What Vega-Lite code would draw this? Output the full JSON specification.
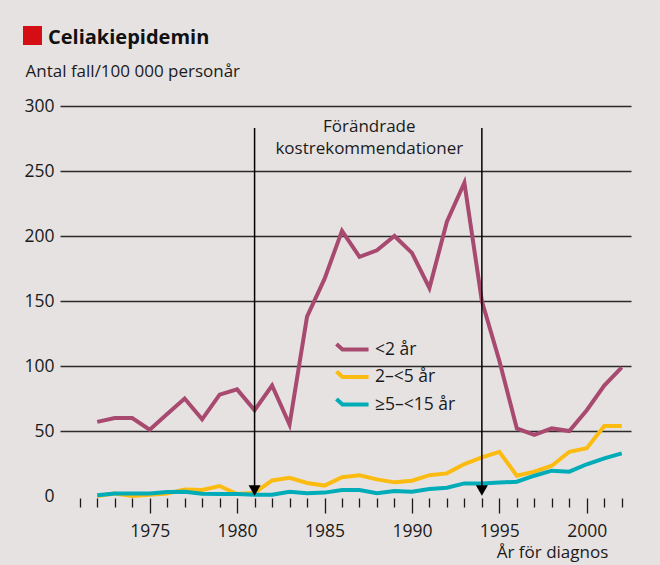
{
  "$schema": "https://vega.github.io/schema/vega-lite/v6.json",
  "width": 571,
  "height": 390,
  "autosize": {"type": "none"},
  "padding": {"left": 60, "top": 106, "right": 29, "bottom": 69},
  "background": "#e7e2e2",
  "config": {
    "view": {"stroke": null},
    "font": "Open Sans",
    "text": {"font": "Open Sans"}
  },
  "title": {
    "text": "Celiakiepidemin",
    "anchor": "start",
    "frame": "group",
    "font": "Open Sans",
    "fontSize": 20,
    "fontWeight": "bold",
    "color": "#111111",
    "dx": -12,
    "offset": -22
  },
  "datasets": {
    "series": [
      {"year": 1972, "value": 57, "grupp": "<2 år"},
      {"year": 1973, "value": 60, "grupp": "<2 år"},
      {"year": 1974, "value": 60, "grupp": "<2 år"},
      {"year": 1975, "value": 51, "grupp": "<2 år"},
      {"year": 1976, "value": 63, "grupp": "<2 år"},
      {"year": 1977, "value": 75, "grupp": "<2 år"},
      {"year": 1978, "value": 59, "grupp": "<2 år"},
      {"year": 1979, "value": 78, "grupp": "<2 år"},
      {"year": 1980, "value": 82, "grupp": "<2 år"},
      {"year": 1981, "value": 66, "grupp": "<2 år"},
      {"year": 1982, "value": 85, "grupp": "<2 år"},
      {"year": 1983, "value": 55, "grupp": "<2 år"},
      {"year": 1984, "value": 138, "grupp": "<2 år"},
      {"year": 1985, "value": 167, "grupp": "<2 år"},
      {"year": 1986, "value": 204, "grupp": "<2 år"},
      {"year": 1987, "value": 184, "grupp": "<2 år"},
      {"year": 1988, "value": 189, "grupp": "<2 år"},
      {"year": 1989, "value": 200, "grupp": "<2 år"},
      {"year": 1990, "value": 187, "grupp": "<2 år"},
      {"year": 1991, "value": 160, "grupp": "<2 år"},
      {"year": 1992, "value": 211, "grupp": "<2 år"},
      {"year": 1993, "value": 241, "grupp": "<2 år"},
      {"year": 1994, "value": 150, "grupp": "<2 år"},
      {"year": 1995, "value": 104, "grupp": "<2 år"},
      {"year": 1996, "value": 52, "grupp": "<2 år"},
      {"year": 1997, "value": 47, "grupp": "<2 år"},
      {"year": 1998, "value": 52, "grupp": "<2 år"},
      {"year": 1999, "value": 50, "grupp": "<2 år"},
      {"year": 2000, "value": 66, "grupp": "<2 år"},
      {"year": 2001, "value": 85, "grupp": "<2 år"},
      {"year": 2002, "value": 99, "grupp": "<2 år"},
      {"year": 1972, "value": 0, "grupp": "2–<5 år"},
      {"year": 1973, "value": 2, "grupp": "2–<5 år"},
      {"year": 1974, "value": 0, "grupp": "2–<5 år"},
      {"year": 1975, "value": 1, "grupp": "2–<5 år"},
      {"year": 1976, "value": 2, "grupp": "2–<5 år"},
      {"year": 1977, "value": 5, "grupp": "2–<5 år"},
      {"year": 1978, "value": 4.6, "grupp": "2–<5 år"},
      {"year": 1979, "value": 7.7, "grupp": "2–<5 år"},
      {"year": 1980, "value": 1.5, "grupp": "2–<5 år"},
      {"year": 1981, "value": 2.5, "grupp": "2–<5 år"},
      {"year": 1982, "value": 12, "grupp": "2–<5 år"},
      {"year": 1983, "value": 14, "grupp": "2–<5 år"},
      {"year": 1984, "value": 10, "grupp": "2–<5 år"},
      {"year": 1985, "value": 8, "grupp": "2–<5 år"},
      {"year": 1986, "value": 14.4, "grupp": "2–<5 år"},
      {"year": 1987, "value": 16, "grupp": "2–<5 år"},
      {"year": 1988, "value": 12.8, "grupp": "2–<5 år"},
      {"year": 1989, "value": 10.5, "grupp": "2–<5 år"},
      {"year": 1990, "value": 11.8, "grupp": "2–<5 år"},
      {"year": 1991, "value": 16, "grupp": "2–<5 år"},
      {"year": 1992, "value": 17.4, "grupp": "2–<5 år"},
      {"year": 1993, "value": 24.6, "grupp": "2–<5 år"},
      {"year": 1994, "value": 29.7, "grupp": "2–<5 år"},
      {"year": 1995, "value": 34, "grupp": "2–<5 år"},
      {"year": 1996, "value": 15.6, "grupp": "2–<5 år"},
      {"year": 1997, "value": 18.7, "grupp": "2–<5 år"},
      {"year": 1998, "value": 23.3, "grupp": "2–<5 år"},
      {"year": 1999, "value": 34, "grupp": "2–<5 år"},
      {"year": 2000, "value": 36.7, "grupp": "2–<5 år"},
      {"year": 2001, "value": 53.8, "grupp": "2–<5 år"},
      {"year": 2002, "value": 53.8, "grupp": "2–<5 år"},
      {"year": 1972, "value": 0.5, "grupp": "≥5–<15 år"},
      {"year": 1973, "value": 2, "grupp": "≥5–<15 år"},
      {"year": 1974, "value": 2, "grupp": "≥5–<15 år"},
      {"year": 1975, "value": 2, "grupp": "≥5–<15 år"},
      {"year": 1976, "value": 3, "grupp": "≥5–<15 år"},
      {"year": 1977, "value": 3.3, "grupp": "≥5–<15 år"},
      {"year": 1978, "value": 1.8, "grupp": "≥5–<15 år"},
      {"year": 1979, "value": 1.5, "grupp": "≥5–<15 år"},
      {"year": 1980, "value": 1.5, "grupp": "≥5–<15 år"},
      {"year": 1981, "value": 1, "grupp": "≥5–<15 år"},
      {"year": 1982, "value": 1, "grupp": "≥5–<15 år"},
      {"year": 1983, "value": 3.3, "grupp": "≥5–<15 år"},
      {"year": 1984, "value": 2.2, "grupp": "≥5–<15 år"},
      {"year": 1985, "value": 2.6, "grupp": "≥5–<15 år"},
      {"year": 1986, "value": 4.6, "grupp": "≥5–<15 år"},
      {"year": 1987, "value": 4.6, "grupp": "≥5–<15 år"},
      {"year": 1988, "value": 2.2, "grupp": "≥5–<15 år"},
      {"year": 1989, "value": 3.8, "grupp": "≥5–<15 år"},
      {"year": 1990, "value": 3.3, "grupp": "≥5–<15 år"},
      {"year": 1991, "value": 5.4, "grupp": "≥5–<15 år"},
      {"year": 1992, "value": 6.4, "grupp": "≥5–<15 år"},
      {"year": 1993, "value": 9.7, "grupp": "≥5–<15 år"},
      {"year": 1994, "value": 9.7, "grupp": "≥5–<15 år"},
      {"year": 1995, "value": 10.3, "grupp": "≥5–<15 år"},
      {"year": 1996, "value": 11, "grupp": "≥5–<15 år"},
      {"year": 1997, "value": 15.6, "grupp": "≥5–<15 år"},
      {"year": 1998, "value": 19.5, "grupp": "≥5–<15 år"},
      {"year": 1999, "value": 18.7, "grupp": "≥5–<15 år"},
      {"year": 2000, "value": 24.4, "grupp": "≥5–<15 år"},
      {"year": 2001, "value": 29, "grupp": "≥5–<15 år"},
      {"year": 2002, "value": 32.8, "grupp": "≥5–<15 år"}
    ],
    "arrows": [
      {"year": 1981, "value": 283, "bottom": 5},
      {"year": 1994, "value": 283, "bottom": 5}
    ],
    "tips": [
      {"year": 1981, "value": 4.2, "markering": "Celiakiepidemin"},
      {"year": 1994, "value": 4.2, "markering": "Celiakiepidemin"}
    ],
    "notes": [
      {"year": 1987.56, "value": 283.8, "text": "Förändrade"},
      {"year": 1987.56, "value": 266.9, "text": "kostrekommendationer"}
    ]
  },
  "encoding": {
    "x": {
      "field": "year",
      "type": "quantitative",
      "scale": {"domain": [1969.87, 2002.53], "nice": false, "zero": false},
      "axis": {
        "values": [1971, 1972, 1973, 1974, 1975, 1976, 1977, 1978, 1979, 1980, 1981, 1982, 1983, 1984, 1985, 1986, 1987, 1988, 1989, 1990, 1991, 1992, 1993, 1994, 1995, 1996, 1997, 1998, 1999, 2000, 2001, 2002],
        "format": "d",
        "labelExpr": "datum.value % 5 === 0 ? datum.label : ''",
        "grid": false,
        "domain": false,
        "ticks": true,
        "tickColor": "#1a1a1a",
        "tickWidth": 1.3,
        "tickSize": {"condition": {"test": "datum.value % 5 === 0", "value": 15}, "value": 9},
        "offset": 2,
        "labelPadding": 9,
        "labelFont": "Open Sans",
        "labelFontSize": 17.5,
        "labelColor": "#1a1a1a",
        "labelOverlap": false,
        "labelFlush": false,
        "title": "År för diagnos",
        "titleFont": "Open Sans",
        "titleFontSize": 17,
        "titleFontWeight": "normal",
        "titleColor": "#1a1a1a",
        "titleAlign": "center",
        "titleBaseline": "middle",
        "titleAnchor": null,
        "titleX": 492,
        "titleY": 54
      }
    },
    "y": {
      "field": "value",
      "type": "quantitative",
      "scale": {"domain": [0, 300], "nice": false},
      "axis": {
        "values": [0, 50, 100, 150, 200, 250, 300],
        "grid": true,
        "gridColor": "#2b2b2b",
        "gridWidth": 1.3,
        "gridOpacity": {"condition": {"test": "datum.value === 0", "value": 0}, "value": 1},
        "ticks": false,
        "domain": false,
        "labelPadding": 6,
        "labelFont": "Open Sans",
        "labelFontSize": 17.5,
        "labelColor": "#1a1a1a",
        "title": "Antal fall/100 000 personår",
        "titleFont": "Open Sans",
        "titleFontSize": 17,
        "titleFontWeight": "normal",
        "titleColor": "#1a1a1a",
        "titleAngle": 0,
        "titleAlign": "left",
        "titleBaseline": "middle",
        "titleX": -35,
        "titleY": -35
      }
    }
  },
  "layer": [
    {
      "data": {"name": "series"},
      "mark": {"type": "line", "strokeWidth": 4, "strokeJoin": "miter", "strokeCap": "butt"},
      "encoding": {
        "color": {
          "field": "grupp",
          "type": "nominal",
          "scale": {"domain": ["<2 år", "2–<5 år", "≥5–<15 år"], "range": ["#a84a70", "#fbbb10", "#00acb8"]},
          "legend": {
            "orient": "none",
            "legendX": 277,
            "legendY": 228,
            "title": null,
            "padding": 0,
            "symbolType": "M-1.19,-0.41L-0.74,0L1.19,0",
            "symbolSize": 729,
            "symbolStrokeWidth": 4,
            "symbolFillColor": "transparent",
            "labelFont": "Open Sans",
            "labelFontSize": 17.5,
            "labelColor": "#1a1a1a",
            "labelOffset": 7,
            "rowPadding": 3.5
          }
        }
      }
    },
    {
      "data": {"name": "arrows"},
      "mark": {"type": "rule", "color": "#000000", "strokeWidth": 1.5},
      "encoding": {"y2": {"field": "bottom"}}
    },
    {
      "data": {"name": "tips"},
      "mark": {"type": "point", "shape": "triangle-down", "filled": true, "color": "#000000", "opacity": 1, "size": 144}
    },
    {
      "data": {"name": "tips"},
      "mark": {"type": "point", "shape": "square", "filled": true, "size": 0},
      "encoding": {
        "fill": {
          "field": "markering",
          "type": "nominal",
          "scale": {"domain": ["Celiakiepidemin"], "range": ["#d40e14"]},
          "legend": {
            "orient": "none",
            "legendX": -37,
            "legendY": -80,
            "title": null,
            "padding": 0,
            "symbolType": "square",
            "symbolSize": 361,
            "symbolStrokeWidth": 0,
            "symbolOpacity": 1,
            "labelExpr": "''"
          }
        }
      }
    },
    {
      "data": {"name": "notes"},
      "mark": {"type": "text", "font": "Open Sans", "fontSize": 17, "color": "#1a1a1a", "align": "center", "baseline": "middle"},
      "encoding": {"text": {"field": "text"}}
    }
  ]
}
